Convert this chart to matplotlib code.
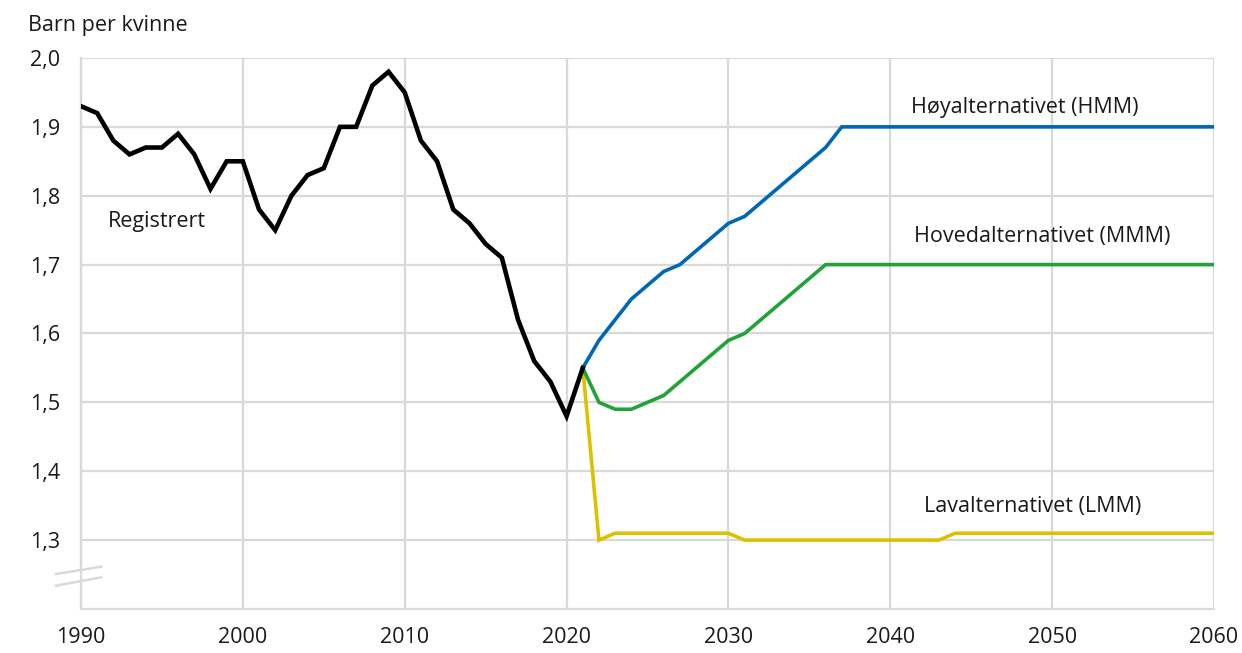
import matplotlib
matplotlib.use("Agg")
import matplotlib.pyplot as plt

plt.rcParams['font.family'] = ['Open Sans', 'DejaVu Sans']

# Data
hist_years = list(range(1990, 2022))
hist_vals = [1.93, 1.92, 1.88, 1.86, 1.87, 1.87, 1.89, 1.86, 1.81, 1.85,
             1.85, 1.78, 1.75, 1.80, 1.83, 1.84, 1.90, 1.90, 1.96, 1.98,
             1.95, 1.88, 1.85, 1.78, 1.76, 1.73, 1.71, 1.62, 1.56, 1.53,
             1.48, 1.55]

proj_years = list(range(2021, 2061))
high_vals = [1.55, 1.59, 1.62, 1.65, 1.67, 1.69, 1.70, 1.72, 1.74, 1.76,
             1.77, 1.79, 1.81, 1.83, 1.85, 1.87] + [1.90] * 24
main_vals = [1.55, 1.50, 1.49, 1.49, 1.50, 1.51, 1.53, 1.55, 1.57, 1.59,
             1.60, 1.62, 1.64, 1.66, 1.68] + [1.70] * 25
low_vals = [1.55, 1.30] + [1.31] * 8 + [1.30] * 13 + [1.31] * 17

x_ticks = [1990, 2000, 2010, 2020, 2030, 2040, 2050, 2060]
y_ticks = [1.3, 1.4, 1.5, 1.6, 1.7, 1.8, 1.9, 2.0]
y_labels = ["1,3", "1,4", "1,5", "1,6", "1,7", "1,8", "1,9", "2,0"]

label_high = "Høyalternativet (HMM)"
label_main = "Hovedalternativet (MMM)"
label_low = "Lavalternativet (LMM)"
label_hist = "Registrert"
y_title = "Barn per kvinne"

c_black = "#000000"
c_blue = "#0067b4"
c_green = "#22a23a"
c_yellow = "#dcc100"
c_grid = "#d9d9d9"
c_text = "#1a1a1a"
fs = 15.5

fig = plt.figure(figsize=(12.42, 6.53), dpi=100)
ax = fig.add_axes([0.0652, 0.0674, 0.9123, 0.8438])

ax.plot(proj_years, low_vals, color=c_yellow, lw=2.6, solid_joinstyle='miter', zorder=3)
ax.plot(proj_years, main_vals, color=c_green, lw=2.6, solid_joinstyle='miter', zorder=3)
ax.plot(proj_years, high_vals, color=c_blue, lw=2.6, solid_joinstyle='miter', zorder=3)
ax.plot(hist_years, hist_vals, color=c_black, lw=3.3, solid_joinstyle='miter', zorder=4)

ax.set_xlim(1990, 2060)
ax.set_ylim(1.2, 2.0)
ax.set_xticks(x_ticks)
ax.set_xticklabels([str(v) for v in x_ticks])
ax.set_yticks(y_ticks)
ax.set_yticklabels(y_labels)
ax.tick_params(axis='both', length=0, labelsize=fs, colors=c_text)
ax.tick_params(axis='x', pad=13)
ax.tick_params(axis='y', pad=15)

ax.grid(True, color=c_grid, lw=1.6, zorder=0)
ax.set_axisbelow(True)
for s in ['top', 'right']:
    ax.spines[s].set_visible(False)
for s in ['left', 'bottom']:
    ax.spines[s].set_color(c_grid)
    ax.spines[s].set_linewidth(1.6)

# axis break marks
for yl, yr in [(0.0635, 0.0768), (0.0423, 0.0575)]:
    ax.plot([-0.022, 0.018], [yl, yr], transform=ax.transAxes,
            color=c_grid, lw=1.8, clip_on=False, zorder=5)

fig.text(28 / 1242, 1 - 26 / 653, y_title, fontsize=fs, va='center', ha='left', color=c_text)

ax.text(2041.3, 1.928, label_high, fontsize=fs, ha='left', va='center', color=c_text)
ax.text(2041.45, 1.741, label_main, fontsize=fs, ha='left', va='center', color=c_text)
ax.text(2042.1, 1.349, label_low, fontsize=fs, ha='left', va='center', color=c_text)
ax.text(1991.67, 1.763, label_hist, fontsize=fs, ha='left', va='center', color=c_text)

plt.savefig("out.png", dpi=100)
